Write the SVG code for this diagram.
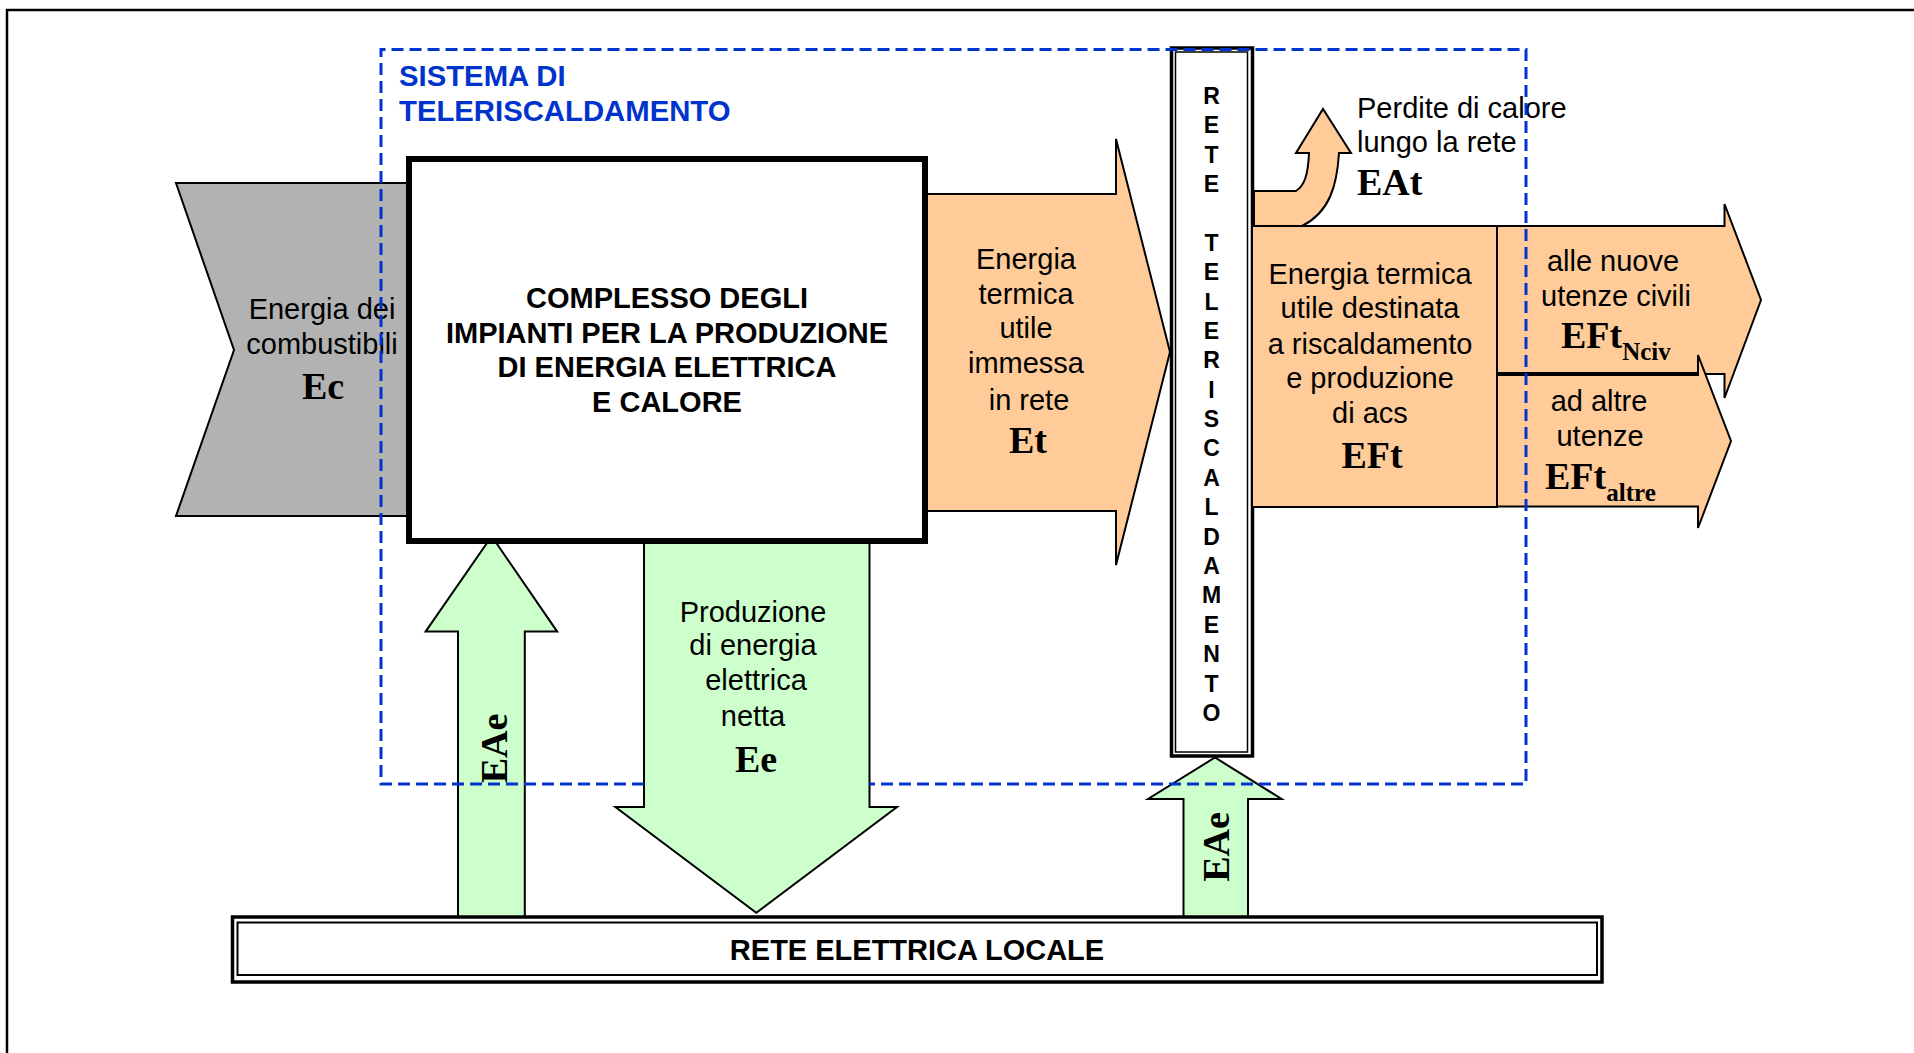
<svg xmlns="http://www.w3.org/2000/svg" width="1914" height="1053" viewBox="0 0 1914 1053">
<style>
.t{font-family:"Liberation Sans",Arial,sans-serif;font-size:29px;fill:#000;text-anchor:middle}
.l{font-family:"Liberation Sans",Arial,sans-serif;font-size:29px;fill:#000;text-anchor:start}
.b{font-family:"Liberation Sans",Arial,sans-serif;font-size:29px;font-weight:bold;fill:#000;text-anchor:middle}
.v{font-family:"Liberation Sans",Arial,sans-serif;font-size:23px;font-weight:bold;fill:#000;text-anchor:middle}
.s{font-family:"Liberation Serif","Times New Roman",serif;font-size:38px;font-weight:bold;fill:#000}
.sub{font-size:25px}
.blue{font-family:"Liberation Sans",Arial,sans-serif;font-size:29.3px;font-weight:bold;fill:#0033CC}
.gray{fill:#B2B2B2;stroke:#000;stroke-width:2}
.or{fill:#FFCC99;stroke:#000;stroke-width:2}
.gr{fill:#CCFFCC;stroke:#000;stroke-width:2}
</style>
<rect width="1914" height="1053" fill="#fff"/>
<path d="M7,1053 V10 H1914" fill="none" stroke="#000" stroke-width="2.5"/>

<g id="connectors">
  <g id="arrow-Ec">
    <polygon class="gray" points="176,183 420,183 420,516 176,516 234,350"/>
    <text class="t" x="322" y="319">Energia dei</text>
    <text class="t" x="322" y="354">combustibili</text>
    <text class="s" x="323" y="399" text-anchor="middle">Ec</text>
  </g>
  <g id="arrow-Et">
    <polygon class="or" points="915,194 1116,194 1116,139 1170,352 1116,565 1116,511 915,511"/>
    <text class="t" x="1026" y="269">Energia</text>
    <text class="t" x="1026" y="304">termica</text>
    <text class="t" x="1026" y="338">utile</text>
    <text class="t" x="1026" y="373">immessa</text>
    <text class="t" x="1029" y="410">in rete</text>
    <text class="s" x="1028" y="453" text-anchor="middle">Et</text>
  </g>
  <g id="arrow-EAt">
    <path class="or" d="M1254,191 L1296,191 C1304,186 1308,176 1309,153 L1296,153 L1323,109 L1351,153 L1339,153 C1337,185 1330,212 1302,226 L1254,226 Z"/>
    <text class="l" x="1357" y="118">Perdite di calore</text>
    <text class="l" x="1357" y="152">lungo la rete</text>
    <text class="s" x="1357" y="195">EAt</text>
  </g>
  <g id="arrow-EFtNciv">
    <polygon class="or" points="1497,226 1724.5,226 1724.5,204 1761,300 1724.5,398 1724.5,374 1497,374"/>
    <text class="t" x="1613" y="271">alle nuove</text>
    <text class="t" x="1616" y="306">utenze civili</text>
    <text class="s" x="1561" y="348">EFt<tspan class="sub" dy="12">Nciv</tspan></text>
  </g>
  <g id="arrow-EFtaltre">
    <polygon class="or" points="1497,374 1698,374 1698,355 1731,441 1698,528 1698,506.5 1497,506.5"/>
    <line x1="1497" y1="374" x2="1699" y2="374" stroke="#000" stroke-width="4"/>
    <text class="t" x="1599" y="411">ad altre</text>
    <text class="t" x="1600" y="446">utenze</text>
    <text class="s" x="1545" y="489">EFt<tspan class="sub" dy="12" font-size="26">altre</tspan></text>
  </g>
  <g id="arrow-EAe-left">
    <polygon class="gr" points="458,919 458,631.6 425.6,631.6 491.7,536.3 557.2,631.6 524.8,631.6 524.8,919"/>
    <text class="s" transform="translate(507,748.5) rotate(-90)" text-anchor="middle">EAe</text>
  </g>
  <g id="arrow-Ee">
    <polygon class="gr" points="644,541.6 869.5,541.6 869.5,807 897,807 756.3,912.7 615.4,807 644,807"/>
    <text class="t" x="753" y="622">Produzione</text>
    <text class="t" x="753" y="655">di energia</text>
    <text class="t" x="756" y="690">elettrica</text>
    <text class="t" x="753" y="726">netta</text>
    <text class="s" x="756" y="772" text-anchor="middle">Ee</text>
  </g>
  <g id="arrow-EAe-right">
    <polygon class="gr" points="1183.5,919 1183.5,799 1148,799 1215,757.5 1281.6,799 1248,799 1248,919"/>
    <text class="s" transform="translate(1229,847) rotate(-90)" text-anchor="middle">EAe</text>
  </g>
</g>

<g id="node-complesso">
  <rect x="409" y="159" width="516" height="382" fill="#fff" stroke="#000" stroke-width="6"/>
  <text class="b" x="667" y="308">COMPLESSO DEGLI</text>
  <text class="b" x="667" y="343">IMPIANTI PER LA PRODUZIONE</text>
  <text class="b" x="667" y="377">DI ENERGIA ELETTRICA</text>
  <text class="b" x="667" y="412">E CALORE</text>
</g>

<g id="node-rete-teleriscaldamento">
  <rect x="1171.5" y="48" width="81" height="708" fill="#fff" stroke="#000" stroke-width="3.5"/>
  <rect x="1175.5" y="52" width="72" height="700" fill="none" stroke="#000" stroke-width="1.5"/>
  <text class="v" x="1211.5" y="104">R</text>
  <text class="v" x="1211.5" y="133">E</text>
  <text class="v" x="1211.5" y="163">T</text>
  <text class="v" x="1211.5" y="192">E</text>
  <text class="v" x="1211.5" y="251">T</text>
  <text class="v" x="1211.5" y="280">E</text>
  <text class="v" x="1211.5" y="310">L</text>
  <text class="v" x="1211.5" y="339">E</text>
  <text class="v" x="1211.5" y="368">R</text>
  <text class="v" x="1211.5" y="398">I</text>
  <text class="v" x="1211.5" y="427">S</text>
  <text class="v" x="1211.5" y="456">C</text>
  <text class="v" x="1211.5" y="486">A</text>
  <text class="v" x="1211.5" y="515">L</text>
  <text class="v" x="1211.5" y="545">D</text>
  <text class="v" x="1211.5" y="574">A</text>
  <text class="v" x="1211.5" y="603">M</text>
  <text class="v" x="1211.5" y="633">E</text>
  <text class="v" x="1211.5" y="662">N</text>
  <text class="v" x="1211.5" y="692">T</text>
  <text class="v" x="1211.5" y="721">O</text>
</g>

<g id="node-EFt">
  <rect x="1252" y="226" width="245" height="281" fill="#FFCC99" stroke="#000" stroke-width="2"/>
  <text class="t" x="1370" y="284">Energia termica</text>
  <text class="t" x="1370" y="318">utile destinata</text>
  <text class="t" x="1370" y="354">a riscaldamento</text>
  <text class="t" x="1370" y="388">e produzione</text>
  <text class="t" x="1370" y="423">di acs</text>
  <text class="s" x="1372" y="468" text-anchor="middle">EFt</text>
</g>

<g id="node-rete-elettrica">
  <rect x="232.5" y="917" width="1369.5" height="65" fill="#fff" stroke="#000" stroke-width="3.5"/>
  <rect x="237.5" y="922.5" width="1359.5" height="52.5" fill="none" stroke="#000" stroke-width="2"/>
  <text class="b" x="917" y="960">RETE ELETTRICA LOCALE</text>
</g>

<g id="node-sistema">
  <path d="M644,784 H381 V49.5 H1526 V784 H869.5" fill="none" stroke="#0033CC" stroke-width="3" stroke-dasharray="12 6"/>
  <text class="blue" x="399" y="86">SISTEMA DI</text>
  <text class="blue" x="399" y="121">TELERISCALDAMENTO</text>
</g>
</svg>
